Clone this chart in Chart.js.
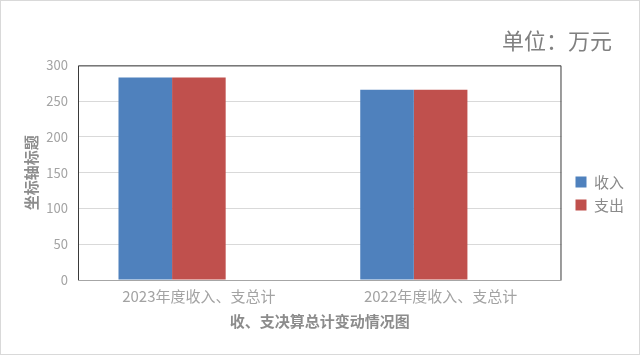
<!DOCTYPE html>
<html><head><meta charset="utf-8">
<script src="https://cdn.jsdelivr.net/npm/chart.js@4/dist/chart.umd.min.js"></script>
<style>
html,body{margin:0;padding:0;background:#fff;}
#wrap{position:relative;width:640px;height:355px;}
#frame{position:absolute;left:0;top:0;width:638px;height:353px;border:1px solid #d9d9d9;pointer-events:none;}
</style></head>
<body>
<div id="wrap"><canvas id="c" width="640" height="355"></canvas><div id="frame"></div></div>
<script>
const categories = ['2023年度收入、支总计', '2022年度收入、支总计'];
const income = [283, 266];
const expense = [283, 266];
const seriesNames = ['收入', '支出'];
const yTicks = [0, 50, 100, 150, 200, 250, 300];

const FONT = "'Noto Sans CJK SC', 'Noto Sans', sans-serif";
const GREY = '#a3a3a3';

const borderPlugin = {
  id: 'plotBorder',
  afterLayout(chart) {
    const l = chart.legend;
    if (l) { l.left += 6; l.right += 6; l.top += 27; l.bottom += 27; }
    const t = chart.titleBlock;
    if (t) { t.left -= 16; t.right -= 16; }
  },
  afterDatasetsDraw(chart) {
    const a = chart.chartArea, ctx = chart.ctx;
    ctx.save();
    ctx.strokeStyle = '#3a3a3a';
    ctx.lineWidth = 1;
    ctx.beginPath();
    ctx.moveTo(a.left + 0.5, a.bottom);
    ctx.lineTo(a.left + 0.5, a.top + 0.5);
    ctx.lineTo(a.right - 0.5, a.top + 0.5);
    ctx.lineTo(a.right - 0.5, a.bottom);
    ctx.stroke();
    ctx.strokeStyle = '#a6a6a6';
    ctx.beginPath();
    ctx.moveTo(a.left, a.bottom + 0.5);
    ctx.lineTo(a.right, a.bottom + 0.5);
    ctx.stroke();
    ctx.restore();
  }
};

new Chart(document.getElementById('c'), {
  type: 'bar',
  data: {
    labels: categories,
    datasets: [
      { label: seriesNames[0], data: income, backgroundColor: '#4F81BD' },
      { label: seriesNames[1], data: expense, backgroundColor: '#C0504D' },
      { label: '', data: [null, null], backgroundColor: 'rgba(0,0,0,0)' }
    ]
  },
  options: {
    responsive: false,
    animation: false,
    layout: { padding: { left: 18, right: 12, top: 0, bottom: 22 } },
    datasets: { bar: { categoryPercentage: 0.665, barPercentage: 1.0 } },
    plugins: {
      title: {
        display: true, text: '单位：万元', align: 'end', position: 'top',
        color: '#808080', font: { family: FONT, size: 22, weight: 'normal' },
        padding: { top: 27, bottom: 12 }
      },
      legend: {
        position: 'right',
        labels: {
          filter: (item) => item.text !== '',
          color: '#8a8a8a', font: { family: FONT, size: 15 },
          boxWidth: 11, boxHeight: 11, padding: 8
        }
      },
      tooltip: { enabled: false }
    },
    scales: {
      x: {
        grid: { display: false, drawTicks: false },
        border: { display: false },
        ticks: { color: GREY, font: { family: FONT, size: 15 }, padding: 7 },
        title: { display: true, text: '收、支决算总计变动情况图', color: '#8c8c8c', font: { family: FONT, size: 15, weight: 'bold' }, padding: { top: 0, bottom: 3 } }
      },
      y: {
        min: 0, max: 300,
        afterBuildTicks: (s) => { s.ticks = yTicks.map(v => ({ value: v })); },
        afterFit: (s) => { s.width = 60; },
        grid: { color: '#d9d9d9', drawTicks: false },
        border: { display: false },
        ticks: { color: GREY, font: { family: FONT, size: 13 }, padding: 10 },
        title: { display: true, text: '坐标轴标题', color: '#8c8c8c', font: { family: FONT, size: 15, weight: 'bold' }, padding: { bottom: 4 } }
      }
    }
  },
  plugins: [borderPlugin]
});
</script>
</body></html>
